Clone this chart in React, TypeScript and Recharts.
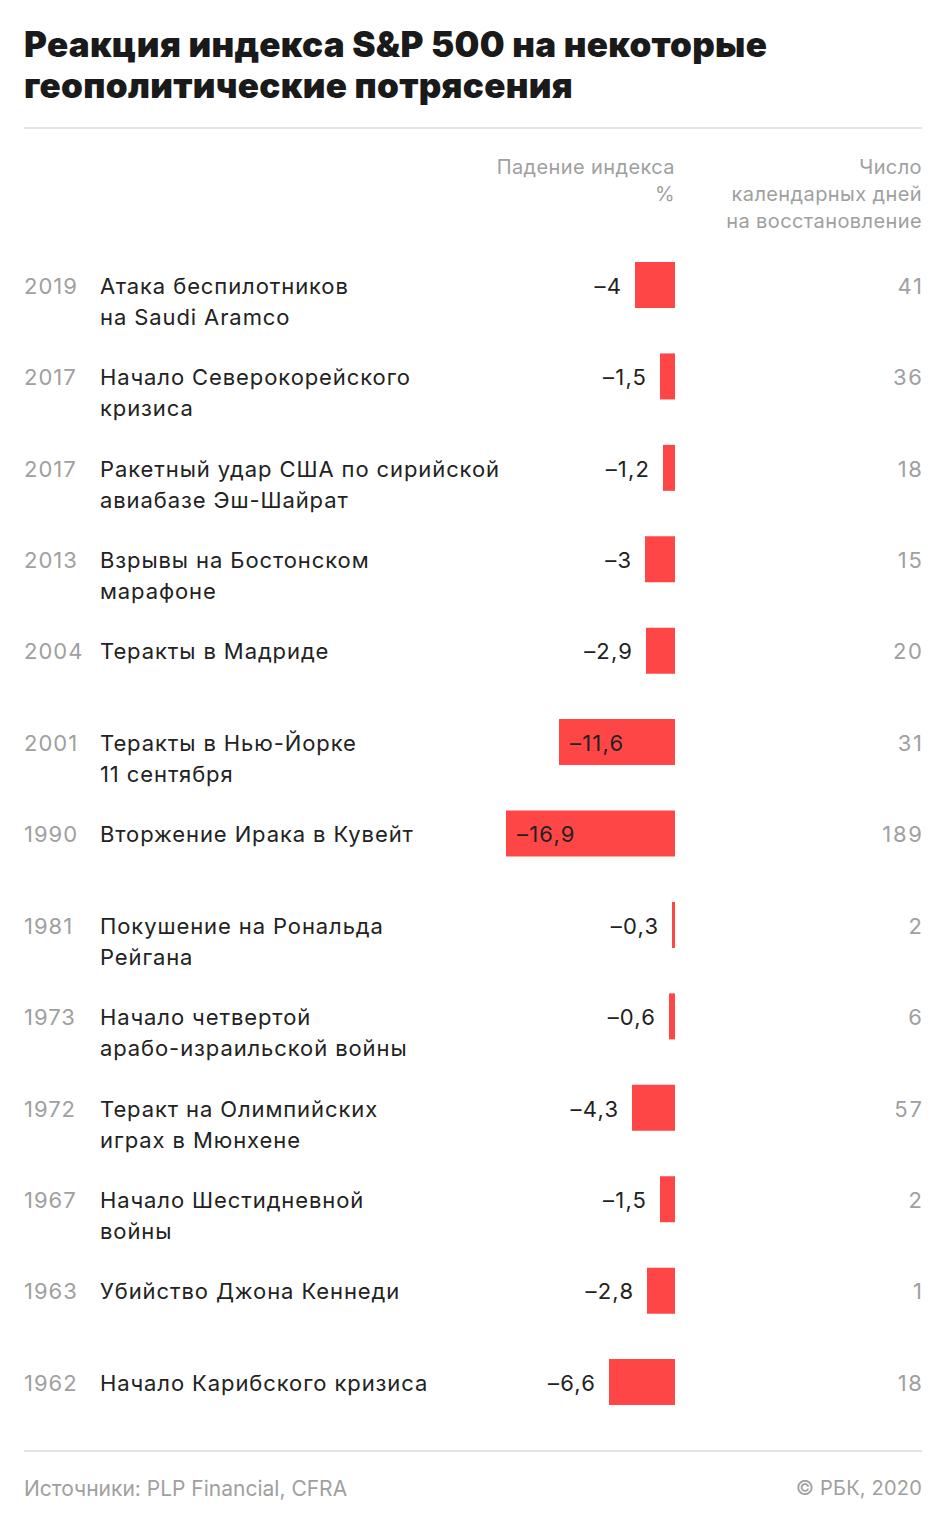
import { BarChart, Bar, XAxis, YAxis, LabelList } from 'recharts';

const years = ['2019', '2017', '2017', '2013', '2004', '2001', '1990', '1981', '1973', '1972', '1967', '1963', '1962'];
const events = [
  'Атака беспилотников\nна Saudi Aramco',
  'Начало Северокорейского\nкризиса',
  'Ракетный удар США по сирийской\nавиабазе Эш-Шайрат',
  'Взрывы на Бостонском\nмарафоне',
  'Теракты в Мадриде',
  'Теракты в Нью-Йорке\n11 сентября',
  'Вторжение Ирака в Кувейт',
  'Покушение на Рональда\nРейгана',
  'Начало четвертой\nарабо-израильской войны',
  'Теракт на Олимпийских\nиграх в Мюнхене',
  'Начало Шестидневной\nвойны',
  'Убийство Джона Кеннеди',
  'Начало Карибского кризиса',
];
const drops = [-4, -1.5, -1.2, -3, -2.9, -11.6, -16.9, -0.3, -0.6, -4.3, -1.5, -2.8, -6.6];
const recoveryDays = [41, 36, 18, 15, 20, 31, 189, 2, 6, 57, 2, 1, 18];

const data = years.map((y, i) => ({
  key: `${y}-${i}`,
  year: y,
  event: events[i],
  drop: drops[i],
  days: recoveryDays[i],
}));

const FONT = 'Inter, Roboto, "Noto Sans", sans-serif';
const GRAY = '#a0a0a0';
const DARK = '#222222';
const RED = '#ff4646';
const FS = 22;
const LS = 0.9;
const NUM_LS = 1.2;

const fmt = (v: number) => '–' + Math.abs(v).toString().replace('.', ',');

function RowLabel(props: any) {
  const { y, height, index } = props;
  const row = data[index];
  if (!row) return null;
  const cy = y + height / 2;
  const lines = row.event.split('\n');
  return (
    <g>
      <text x={24} y={cy} dy="0.4em" fill={GRAY} fontSize={FS} fontFamily={FONT} letterSpacing={1}>{row.year}</text>
      {lines.map((l: string, k: number) => (
        <text key={k} x={100} y={cy + k * 31} dy="0.4em" fill={DARK} fontSize={FS} fontFamily={FONT} letterSpacing={LS}>{l}</text>
      ))}
    </g>
  );
}

function ValueLabel(props: any) {
  const { x, y, width, height, value } = props;
  const left = Math.min(x, x + width);
  const cy = y + height / 2;
  if (Math.abs(value) >= 10) {
    return (
      <text x={left + 11} y={cy} dy="0.4em" fill={DARK} fontSize={FS} fontFamily={FONT} letterSpacing={NUM_LS} textAnchor="start">{fmt(value)}</text>
    );
  }
  return (
    <text x={left - 14 + NUM_LS} y={cy} dy="0.4em" fill={DARK} fontSize={FS} fontFamily={FONT} letterSpacing={NUM_LS} textAnchor="end">{fmt(value)}</text>
  );
}

function DaysLabel(props: any) {
  const { y, height, value } = props;
  return (
    <text x={922 + 1.8} y={y + height / 2} dy="0.4em" fill={GRAY} fontSize={FS} fontFamily={FONT} letterSpacing={1.8} textAnchor="end">{value}</text>
  );
}

export default function App() {
  return (
    <div style={{ position: 'absolute', left: 0, top: 0, width: 945, height: 1531, background: '#fff', fontFamily: FONT }}>
      <div style={{ position: 'absolute', left: 24, top: 24, fontSize: 35, fontWeight: 900, lineHeight: '41px', color: '#1a1a1a', letterSpacing: 0.3 }}>
        Реакция индекса S&amp;P 500 на некоторые<br />геополитические потрясения
      </div>
      <div style={{ position: 'absolute', left: 24, top: 127, width: 898, height: 2, background: '#e3e3e3' }} />
      <div style={{ position: 'absolute', right: 945 - 675, top: 154, textAlign: 'right', fontSize: 20, lineHeight: '27px', color: GRAY, letterSpacing: 0.4 }}>
        Падение индекса<br />%
      </div>
      <div style={{ position: 'absolute', right: 945 - 922, top: 154, textAlign: 'right', fontSize: 20, lineHeight: '27px', color: GRAY, letterSpacing: 0.4 }}>
        Число<br />календарных дней<br />на восстановление
      </div>
      <div style={{ position: 'absolute', left: 0, top: 0 }}>
        <BarChart
          width={945}
          height={1531}
          data={data}
          layout="vertical"
          margin={{ top: 239, bottom: 103.5, left: 25, right: 270 }}
          barSize={46}
        >
          <XAxis type="number" domain={[-65, 0]} hide />
          <YAxis type="category" dataKey="key" hide />
          <Bar dataKey="drop" fill={RED} isAnimationActive={false}>
            <LabelList dataKey="year" content={<RowLabel />} />
            <LabelList dataKey="drop" content={<ValueLabel />} />
            <LabelList dataKey="days" content={<DaysLabel />} />
          </Bar>
        </BarChart>
      </div>
      <div style={{ position: 'absolute', left: 24, top: 1450, width: 898, height: 2, background: '#e3e3e3' }} />
      <div style={{ position: 'absolute', left: 24, top: 1476, fontSize: 21, color: GRAY }}>
        Источники: PLP Financial, CFRA
      </div>
      <div style={{ position: 'absolute', right: 945 - 922, top: 1476, fontSize: 20, color: GRAY, letterSpacing: 0.2 }}>
        © РБК, 2020
      </div>
    </div>
  );
}
